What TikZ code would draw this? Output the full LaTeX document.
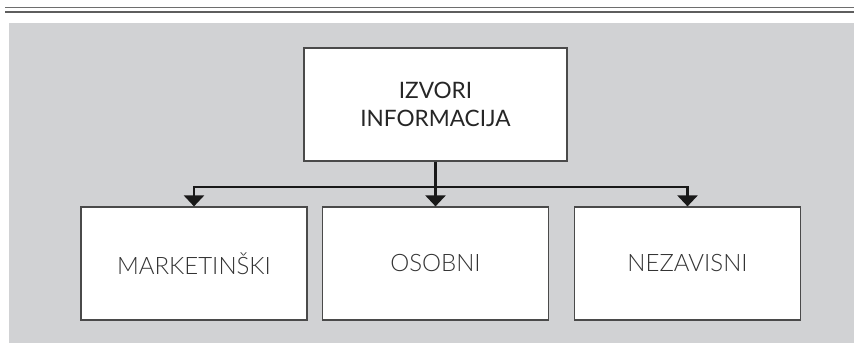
\documentclass[tikz,border=0pt]{standalone}
\usepackage{fontspec}
\setmainfont{Lato}
\newfontfamily\lightfont{Lato Light}
\usetikzlibrary{arrows.meta}
\definecolor{bggray}{HTML}{D1D2D4}
\definecolor{boxline}{HTML}{4A4A4A}
\definecolor{rulegray}{HTML}{6E6E6E}
\tikzset{
  topbox/.style={draw=boxline, line width=0.6pt, fill=white, minimum width=131.5pt, minimum height=56.5pt, inner sep=0pt, align=center, font=\fontsize{11.3}{14}\selectfont, text=black!85},
  subbox/.style={draw=boxline, line width=0.6pt, fill=white, minimum width=113pt, minimum height=56.5pt, inner sep=0pt, font=\lightfont\fontsize{12}{14}\selectfont, text=black!80},
  conn/.style={line width=1.2pt, black!90},
  arr/.style={conn, -{Triangle[length=5.5pt,width=10pt]}}
}
\begin{document}
\begin{tikzpicture}[x=0.5pt,y=-0.5pt]
\useasboundingbox (0,0) rectangle (854,347);
\fill[white] (0,0) rectangle (854,347);
\draw[rulegray, line width=0.5pt] (5,7.5) -- (854,7.5);
\draw[rulegray!85!black, line width=1pt] (5,12.5) -- (854,12.5);
\fill[bggray] (9,23) rectangle (854,343);
\node[topbox] (top) at (435.5,104.5) {IZVORI\\INFORMACIJA};
\node[subbox] (b1) at (194,263.5) {MARKETINŠKI};
\node[subbox] (b2) at (435.5,263.5) {OSOBNI};
\node[subbox] (b3) at (687.5,263.5) {NEZAVISNI};
\coordinate (bus) at (435.5,187);
\draw[arr] (top.south) -- (b2.north);
\draw[arr] (bus) -| (b1.north);
\draw[arr] (bus) -| (b3.north);
\end{tikzpicture}
\end{document}
